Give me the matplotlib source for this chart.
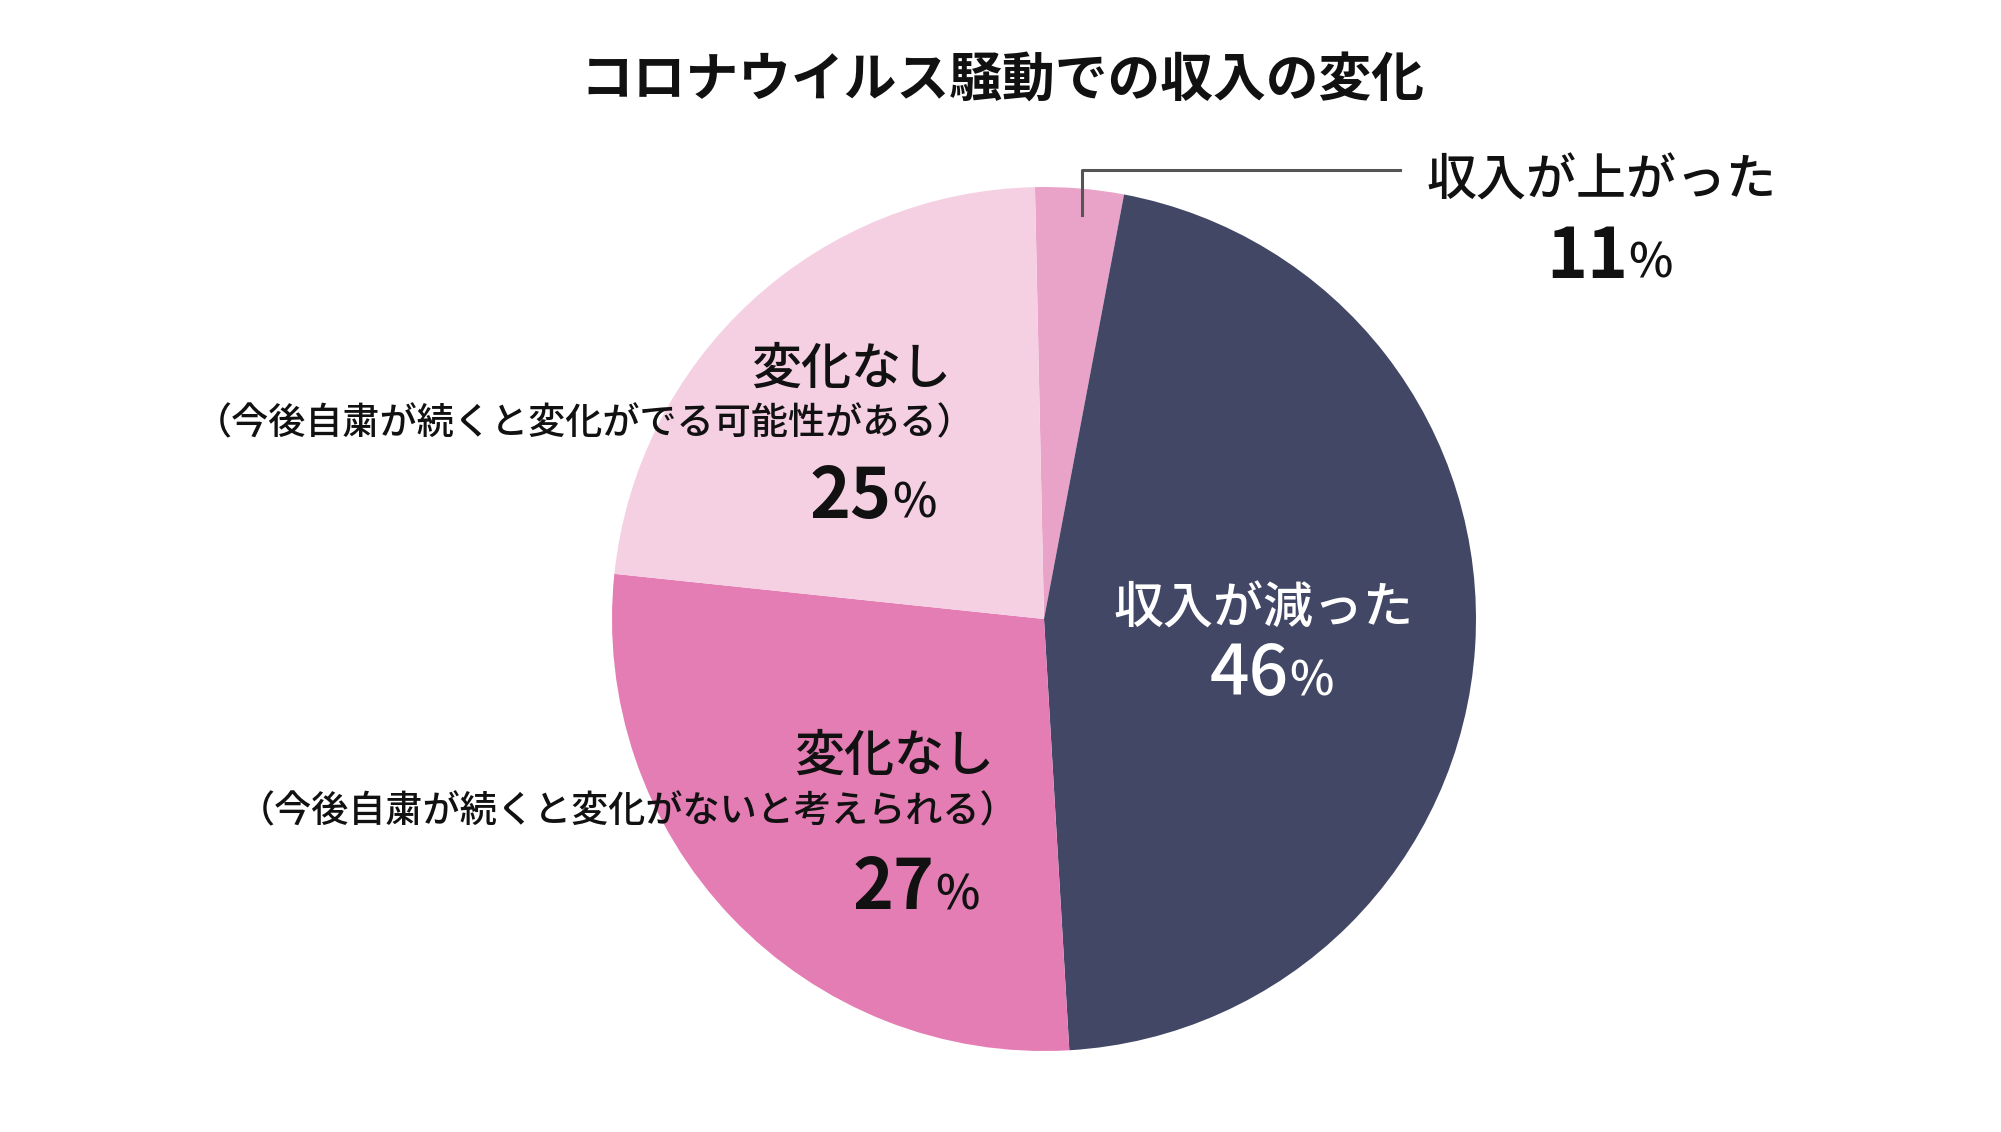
import matplotlib
matplotlib.use("Agg")
import matplotlib.pyplot as plt

# ---- data ----
title = "コロナウイルス騒動での収入の変化"
categories = ["収入が上がった", "収入が減った", "変化なし", "変化なし"]
notes = ["", "", "（今後自粛が続くと変化がないと考えられる）", "（今後自粛が続くと変化がでる可能性がある）"]
slice_sizes = [3.3, 46.1, 27.6, 23.0]      # wedge sizes as drawn in the picture
label_values = ["11", "46", "27", "25"]    # printed percentages
colors = ["#E9A3C9", "#434766", "#E47DB3", "#F5D0E3"]

W, H = 2001, 1132
plt.rcParams['font.family'] = ['Noto Sans CJK JP', 'DejaVu Sans']
fig = plt.figure(figsize=(W / 100, H / 100), dpi=100)
fig.patch.set_facecolor("white")

cx, cy, r = 1044, 619, 432
ax = fig.add_axes([(cx - r) / W, (H - cy - r) / H, 2 * r / W, 2 * r / H])
ax.pie(slice_sizes, colors=colors, startangle=91.2, counterclock=False,
       radius=1.0, wedgeprops=dict(linewidth=0))
ax.set_xlim(-1, 1)
ax.set_ylim(-1, 1)
ax.set_aspect("equal")
ax.axis("off")


def P(x, y):
    return x / W, 1 - y / H


def T(x, y, s, **kw):
    fig.text(*P(x, y), s, **kw)


# title
T(1002, 81, title, ha="center", va="center", fontsize=38, fontweight="bold", color="#111111")

# leader line for small slice
fig.add_artist(plt.Line2D([1082 / W, 1082 / W, 1400 / W],
                          [1 - 215 / H, 1 - 170 / H, 1 - 170 / H],
                          color="#555555", linewidth=2.2, transform=fig.transFigure))

dark = "#111111"
# 収入が上がった
T(1601, 182, categories[0], ha="center", va="center", fontsize=36, fontweight="medium", color=dark)
T(1628, 278, label_values[0], ha="right", va="baseline", fontsize=50, fontweight="bold", color=dark)
T(1628, 278, "%", ha="left", va="baseline", fontsize=34, fontweight="medium", color=dark)

# 収入が減った
T(1263, 610, categories[1], ha="center", va="center", fontsize=36, fontweight="medium", color="white")
T(1289, 695, label_values[1], ha="right", va="baseline", fontsize=50, fontweight="medium", color="white")
T(1289, 695, "%", ha="left", va="baseline", fontsize=34, fontweight="medium", color="white")

# 変化なし (lower)
T(994, 757, categories[2], ha="right", va="center", fontsize=36, fontweight="medium", color=dark)
T(1017, 811, notes[2], ha="right", va="center", fontsize=26.7, fontweight="medium", color=dark)
T(935, 909, label_values[2], ha="right", va="baseline", fontsize=50, fontweight="bold", color=dark)
T(935, 909, "%", ha="left", va="baseline", fontsize=34, fontweight="medium", color=dark)

# 変化なし (upper)
T(951, 370, categories[3], ha="right", va="center", fontsize=36, fontweight="medium", color=dark)
T(974, 423, notes[3], ha="right", va="center", fontsize=26.7, fontweight="medium", color=dark)
T(892, 518, label_values[3], ha="right", va="baseline", fontsize=50, fontweight="bold", color=dark)
T(892, 518, "%", ha="left", va="baseline", fontsize=34, fontweight="medium", color=dark)

fig.savefig("out.png", dpi=100, facecolor="white")
